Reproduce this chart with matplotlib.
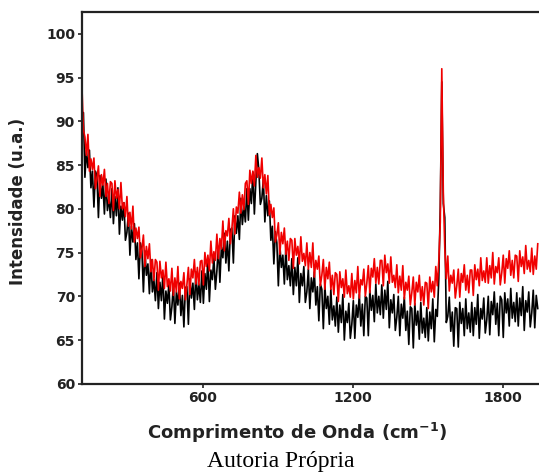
import numpy as np
import matplotlib
matplotlib.use("Agg")
import matplotlib.pyplot as plt

# numero de onda (cm-1), amostrado a cada 6 cm-1 (116 ... 1940)
onda = np.arange(116, 1941, 6)

# espectro vermelho
verm = [94.0, 89.0, 88.2, 86.1, 88.5, 84.3, 85.7, 84.5, 85.8, 82.3,
        83.4, 84.9, 81.4, 83.9, 82.7, 84.5, 81.4, 82.9, 80.6, 83.1,
        82.9, 79.8, 83.2, 81.2, 82.2, 80.0, 83.0, 80.0, 80.7, 79.1,
        81.4, 78.0, 79.6, 77.7, 80.3, 76.2, 77.8, 76.6, 77.9, 74.4,
        75.4, 77.0, 73.4, 75.7, 74.3, 76.0, 72.8, 74.2, 71.8, 74.2,
        73.9, 70.7, 74.0, 72.1, 73.0, 70.9, 73.9, 71.1, 72.0, 70.6,
        73.2, 70.1, 72.1, 70.5, 73.4, 69.7, 71.7, 70.9, 72.7, 69.6,
        71.3, 73.3, 70.2, 73.1, 72.1, 74.2, 71.4, 73.3, 71.3, 74.0,
        74.1, 71.3, 75.0, 73.4, 74.7, 72.9, 76.3, 73.8, 75.1, 74.1,
        77.1, 74.3, 76.6, 75.4, 78.6, 75.2, 77.5, 76.9, 78.9, 76.0,
        77.7, 80.0, 77.1, 80.2, 79.5, 81.9, 79.5, 81.6, 79.9, 82.9,
        83.2, 80.5, 84.4, 82.9, 84.3, 82.6, 86.1, 83.6, 84.7, 83.5,
        85.8, 82.4, 83.9, 81.7, 83.8, 79.3, 80.5, 79.0, 80.1, 76.2,
        77.0, 78.4, 74.8, 77.3, 76.0, 77.8, 74.8, 76.3, 74.1, 76.6,
        76.4, 73.2, 76.6, 74.7, 75.7, 73.7, 76.8, 74.0, 74.9, 73.5,
        76.1, 73.1, 75.0, 73.3, 76.1, 72.2, 74.1, 73.1, 74.6, 71.2,
        72.4, 74.2, 70.8, 73.3, 72.0, 73.9, 70.8, 72.4, 70.2, 72.7,
        72.5, 69.4, 72.8, 71.0, 72.0, 69.9, 73.0, 70.3, 71.2, 69.9,
        72.6, 69.7, 71.8, 70.4, 73.4, 69.8, 71.9, 71.3, 73.1, 70.0,
        71.5, 73.5, 70.4, 73.2, 72.2, 74.3, 71.5, 73.3, 71.4, 74.1,
        74.1, 71.2, 74.7, 72.7, 73.7, 71.5, 74.5, 71.6, 72.4, 71.0,
        73.6, 70.4, 72.3, 70.7, 73.5, 69.7, 71.6, 70.7, 72.3, 69.0,
        70.4, 72.2, 69.0, 71.6, 70.5, 72.4, 69.5, 71.1, 69.0, 71.6,
        71.5, 68.6, 72.2, 70.5, 71.7, 69.9, 73.4, 71.2, 74.0, 78.5,
        96.0, 82.0, 75.5, 72.0, 74.6, 70.6, 72.4, 71.5, 73.0, 69.8,
        71.2, 73.1, 69.9, 72.6, 71.6, 73.6, 70.7, 72.4, 70.4, 73.0,
        73.0, 70.1, 73.6, 71.9, 73.1, 71.2, 74.4, 71.8, 72.9, 71.6,
        74.4, 71.5, 73.5, 72.1, 75.0, 71.4, 73.4, 72.7, 74.4, 71.3,
        72.7, 74.7, 71.5, 74.3, 73.2, 75.2, 72.4, 74.1, 72.1, 74.7,
        74.6, 71.7, 75.2, 73.4, 74.5, 72.6, 75.8, 73.1, 74.1, 72.8,
        75.5, 72.5, 74.6, 73.1, 76.0]

# espectro preto
preto = [88.5, 91.0, 83.6, 86.7, 84.7, 86.7, 82.4, 84.3, 80.2, 84.3,
         83.8, 79.0, 83.8, 81.2, 82.7, 79.4, 83.4, 79.8, 81.3, 79.0,
         82.3, 78.3, 81.4, 79.2, 82.4, 77.1, 80.3, 78.7, 80.7, 76.4,
         77.3, 79.5, 74.7, 78.0, 76.2, 78.3, 74.2, 76.1, 72.0, 76.1,
         75.2, 70.5, 75.2, 72.4, 73.7, 70.3, 74.2, 70.5, 71.9, 69.5,
         72.7, 68.6, 71.6, 69.5, 72.6, 67.4, 70.6, 69.2, 71.4, 67.3,
         68.8, 71.3, 66.9, 70.5, 69.0, 71.5, 67.8, 70.1, 66.5, 71.0,
         71.1, 66.8, 72.0, 69.8, 71.5, 68.5, 72.8, 69.6, 71.4, 69.3,
         72.9, 69.2, 72.6, 70.8, 74.3, 69.4, 73.0, 71.9, 74.5, 70.8,
         72.9, 75.7, 71.6, 75.6, 74.4, 77.2, 73.8, 76.3, 72.9, 77.6,
         77.8, 73.8, 79.2, 77.2, 79.2, 76.5, 81.2, 78.2, 80.3, 78.5,
         82.3, 78.7, 82.3, 80.6, 84.2, 79.4, 83.1, 86.3, 84.4, 80.5,
         81.2, 83.4, 78.5, 81.5, 79.2, 80.9, 76.4, 78.0, 73.7, 77.4,
         76.1, 71.2, 75.9, 73.3, 74.7, 71.4, 75.5, 71.9, 73.5, 71.2,
         74.3, 70.2, 73.3, 71.2, 74.4, 69.3, 72.6, 71.2, 73.4, 69.3,
         70.5, 73.1, 68.6, 72.1, 70.5, 72.8, 69.0, 71.1, 67.2, 71.4,
         70.8, 66.3, 71.2, 68.6, 70.0, 66.8, 70.8, 67.3, 68.9, 66.6,
         69.9, 65.9, 69.0, 67.0, 70.2, 65.0, 68.3, 67.0, 69.2, 65.2,
         66.8, 69.5, 65.2, 69.0, 67.6, 70.2, 66.6, 69.1, 65.5, 70.0,
         69.8, 65.5, 70.7, 68.4, 70.1, 67.1, 71.4, 68.1, 70.0, 67.9,
         71.3, 67.5, 70.7, 68.5, 71.7, 66.4, 69.6, 68.1, 70.2, 66.1,
         67.6, 70.0, 65.5, 69.1, 67.5, 69.9, 66.1, 68.3, 64.5, 68.8,
         68.6, 64.1, 69.2, 66.7, 68.3, 65.1, 69.3, 65.8, 67.5, 65.3,
         68.7, 64.9, 68.2, 66.3, 69.7, 64.8, 68.5, 67.7, 72.0, 80.2,
         94.5, 80.6, 79.0, 67.0, 67.7, 69.9, 66.0, 68.2, 64.3, 68.7,
         68.6, 64.2, 69.3, 66.9, 68.6, 65.5, 69.7, 66.3, 68.1, 65.9,
         69.3, 65.5, 68.7, 66.8, 70.2, 65.2, 68.6, 67.4, 69.8, 65.8,
         67.3, 70.0, 65.6, 69.4, 67.9, 70.5, 66.8, 69.2, 65.5, 70.0,
         69.6, 65.3, 70.4, 68.1, 69.7, 66.6, 70.9, 67.5, 69.3, 67.1,
         70.4, 66.6, 69.8, 67.8, 71.1, 66.1, 69.5, 68.2, 70.5, 66.5,
         68.1, 70.7, 66.4, 70.1, 68.6]

xticks = [600, 1200, 1800]
yticks = [60, 65, 70, 75, 80, 85, 90, 95, 100]

plt.rcParams['font.family'] = ['DejaVu Sans']
plt.rcParams['mathtext.fontset'] = 'dejavusans'

fig = plt.figure(figsize=(5.39, 4.75), dpi=100)
ax = fig.add_axes([0.152, 0.192, 0.848, 0.783])

ax.plot(onda, preto, color='black', lw=1.2)
ax.plot(onda, verm, color='#f00000', lw=1.2)

ax.set_xlim(116, 1945)
ax.set_ylim(60, 102.5)
ax.set_xticks(xticks)
ax.set_yticks(yticks)
ax.tick_params(labelsize=10, length=3, width=1.2, pad=2, colors='#222222')
for lab in ax.get_xticklabels() + ax.get_yticklabels():
    lab.set_fontweight('bold')

for s in ['left', 'bottom', 'top']:
    ax.spines[s].set_linewidth(1.6)
    ax.spines[s].set_color('#222222')
ax.spines['right'].set_visible(False)

ax.set_xlabel(r'Comprimento de Onda (cm$^{\mathbf{-1}}$)', fontsize=13,
              fontweight='bold', color='#222222')
ax.xaxis.set_label_coords(0.47, -0.1)
ax.set_ylabel('Intensidade (u.a.)', fontsize=12, fontweight='bold',
              color='#222222')
ax.yaxis.set_label_coords(-0.12, 0.49)

fig.text(0.52, 0.028, 'Autoria Própria', ha='center', va='center',
         fontsize=17, family='Liberation Serif', color='black')

fig.savefig('out.png', dpi=100)
